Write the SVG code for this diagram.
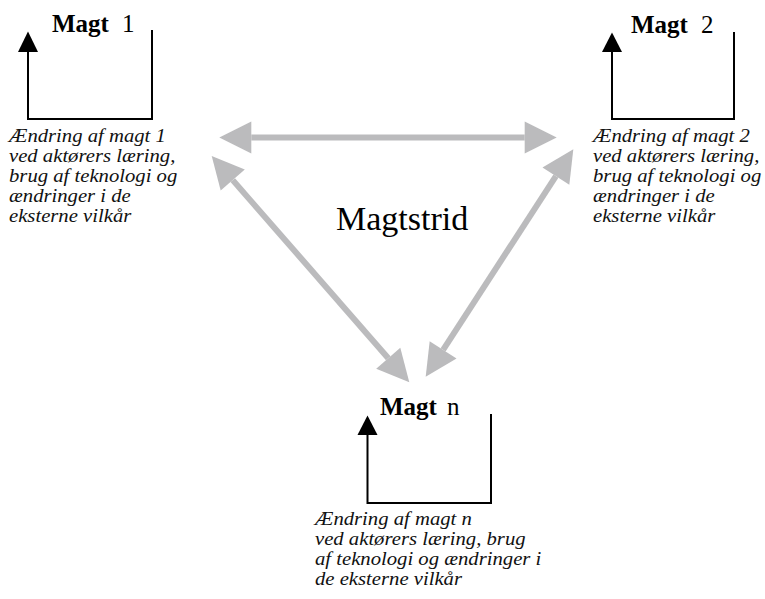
<svg xmlns="http://www.w3.org/2000/svg" width="765" height="599" viewBox="0 0 765 599">
  <style>
    .loop { fill: none; stroke: #000; stroke-width: 2; }
    .tip { fill: #000; }
    .head { font-family: "Liberation Serif", "Times New Roman", serif; font-size: 25px; fill: #000; }
    .head .b { font-weight: bold; }
    .note { font-family: "Liberation Serif", "Times New Roman", serif; font-size: 18px; font-style: italic; fill: #111; }
    .title { font-family: "Liberation Serif", "Times New Roman", serif; font-size: 34px; fill: #000; }
    .link { stroke: #bbbbbd; stroke-width: 6; fill: none; marker-start: url(#ah); marker-end: url(#ah); }
  </style>
  <defs>
    <marker id="ah" markerUnits="userSpaceOnUse" markerWidth="34" markerHeight="34" viewBox="0 -17 33 34" refX="0" refY="0" orient="auto-start-reverse">
      <polygon points="0,-16 32,0 0,16" fill="#bbbbbd"/>
    </marker>
  </defs>

  <!-- power struggle connectors -->
  <g id="connectors">
    <line class="link" x1="251.3" y1="137.5" x2="524.7" y2="137.5"/>
    <line class="link" x1="232.75" y1="180.1" x2="388.25" y2="358.2"/>
    <line class="link" x1="555.9" y1="176.1" x2="443.1" y2="349.9"/>
  </g>

  <g id="magt1">
    <path class="loop" d="M28,52 V119 H152 V30"/>
    <polygon class="tip" points="18,52 28,31.5 38,52"/>
    <text class="head" x="52" y="32"><tspan class="b">Magt</tspan><tspan x="122">1</tspan></text>
    <!-- notes: slightly widened italic -->
    <g transform="translate(9,0) scale(1.15,1)">
      <text class="note" x="0" y="142">Ændring af magt 1</text>
      <text class="note" x="0" y="162">ved aktørers læring,</text>
      <text class="note" x="0" y="182">brug af teknologi og</text>
      <text class="note" x="0" y="202">ændringer i de</text>
      <text class="note" x="0" y="222">eksterne vilkår</text>
    </g>
  </g>

  <g id="magt2">
    <path class="loop" d="M612,52 V119 H734 V32"/>
    <polygon class="tip" points="602,52 612,32.5 622,52"/>
    <text class="head" x="631" y="33"><tspan class="b">Magt</tspan><tspan x="701">2</tspan></text>
    <g transform="translate(593,0) scale(1.15,1)">
      <text class="note" x="0" y="142">Ændring af magt 2</text>
      <text class="note" x="0" y="162">ved aktørers læring,</text>
      <text class="note" x="0" y="182">brug af teknologi og</text>
      <text class="note" x="0" y="202">ændringer i de</text>
      <text class="note" x="0" y="222">eksterne vilkår</text>
    </g>
  </g>

  <g id="magtn">
    <path class="loop" d="M367.5,435 V503 H491 V414"/>
    <polygon class="tip" points="357.5,435 367.5,415.5 377.5,435"/>
    <text class="head" x="380" y="415"><tspan class="b">Magt</tspan><tspan x="447">n</tspan></text>
    <g transform="translate(315,0) scale(1.15,1)">
      <text class="note" x="0" y="525.5">Ændring af magt n</text>
      <text class="note" x="0" y="545.5">ved aktørers læring, brug</text>
      <text class="note" x="0" y="565.5">af teknologi og ændringer i</text>
      <text class="note" x="0" y="585.5">de eksterne vilkår</text>
    </g>
  </g>

  <g id="magtstrid">
    <text class="title" x="336" y="230">Magtstrid</text>
  </g>
</svg>
